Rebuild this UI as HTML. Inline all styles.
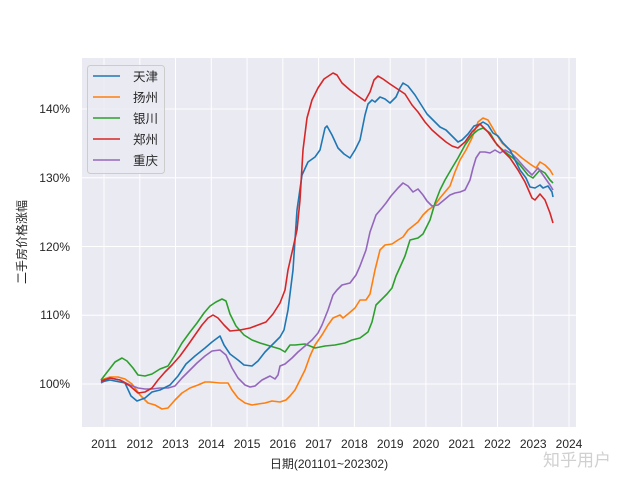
<!DOCTYPE html>
<html><head><meta charset="utf-8"><style>
body{margin:0;background:#fff}
svg text{font-family:"Liberation Sans","Noto Sans CJK SC",sans-serif;fill:#262626}
</style></head><body>
<svg width="640" height="480" xmlns="http://www.w3.org/2000/svg">
<rect x="82" y="58" width="494" height="369" fill="#EAEAF2"/>
<g stroke="#fff" stroke-width="1">
<line x1="104" y1="58" x2="104" y2="427"/><line x1="139.8" y1="58" x2="139.8" y2="427"/><line x1="175.5" y1="58" x2="175.5" y2="427"/><line x1="211.3" y1="58" x2="211.3" y2="427"/><line x1="247.1" y1="58" x2="247.1" y2="427"/><line x1="282.8" y1="58" x2="282.8" y2="427"/><line x1="318.6" y1="58" x2="318.6" y2="427"/><line x1="354.4" y1="58" x2="354.4" y2="427"/><line x1="390.2" y1="58" x2="390.2" y2="427"/><line x1="425.9" y1="58" x2="425.9" y2="427"/><line x1="461.7" y1="58" x2="461.7" y2="427"/><line x1="497.5" y1="58" x2="497.5" y2="427"/><line x1="533.2" y1="58" x2="533.2" y2="427"/><line x1="569" y1="58" x2="569" y2="427"/>
<line x1="82" y1="384" x2="576" y2="384"/><line x1="82" y1="315.3" x2="576" y2="315.3"/><line x1="82" y1="246.5" x2="576" y2="246.5"/><line x1="82" y1="177.8" x2="576" y2="177.8"/><line x1="82" y1="109" x2="576" y2="109"/>
</g>
<g font-size="12" text-anchor="end">
<text x="70" y="388">100%</text><text x="70" y="319">110%</text><text x="70" y="251">120%</text><text x="70" y="182">130%</text><text x="70" y="113">140%</text>
</g>
<g font-size="12" text-anchor="middle">
<text x="104" y="448">2011</text><text x="139.8" y="448">2012</text><text x="175.5" y="448">2013</text><text x="211.3" y="448">2014</text><text x="247.1" y="448">2015</text><text x="282.8" y="448">2016</text><text x="318.6" y="448">2017</text><text x="354.4" y="448">2018</text><text x="390.2" y="448">2019</text><text x="425.9" y="448">2020</text><text x="461.7" y="448">2021</text><text x="497.5" y="448">2022</text><text x="533.2" y="448">2023</text><text x="569" y="448">2024</text>
<text x="329" y="468">日期(201101~202302)</text>
<text transform="translate(26,242) rotate(-90)">二手房价格涨幅</text>
</g>
<g fill="none" stroke-width="1.6" stroke-linejoin="round">
<polyline stroke="#ff7f0e" points="101,380 110,377 118,377 125,379 132,384 140,395 148,403 155,405 162,409 168,408 175,400 182,393 190,388 198,385 205,382 210,382 220,383 228,383 232,390 238,398 245,403 252,405 258,404 265,403 272,401 280,402 286,400 290,396 295,390 300,380 305,370 310,356 315,345 322,335 328,325 333,318 340,315 343,318 348,314 355,308 360,300 366,300 370,294 375,270 380,250 385,245 392,244 398,240 403,237 408,230 413,226 418,222 423,215 428,210 434,206 440,198 445,192 450,186 455,172 460,160 466,150 472,138 478,122 483,118 488,120 495,132 502,143 510,150 515,152 522,158 530,164 536,168 540,162 545,165 550,170 553,175"/>
<polyline stroke="#2ca02c" points="101,380 108,371 115,362 122,358 127,361 133,368 138,375 145,376 152,374 160,369 168,366 175,355 182,343 190,332 197,323 204,313 210,306 216,302 222,299 226,301 230,314 236,326 244,335 252,340 260,343 270,346 280,349 285,352 290,345 295,345 305,344 315,348 325,346 335,345 345,343 352,340 360,338 368,332 372,322 376,305 381,300 387,294 392,288 396,276 401,265 405,256 410,240 418,238 423,234 426,228 430,220 435,203 440,190 445,180 452,168 458,158 465,145 472,135 478,130 483,128 490,133 497,145 505,152 513,158 520,165 528,175 533,178 540,170 545,173 550,180 553,183"/>
<polyline stroke="#9467bd" points="101,383 110,378 120,380 130,385 138,388 145,389 152,389 160,388 168,388 175,386 182,378 190,370 197,363 205,356 212,351 220,350 226,355 232,368 238,378 245,385 250,387 255,386 262,380 270,376 275,379 278,375 280,366 285,364 292,358 298,352 305,346 312,340 318,333 322,325 328,310 333,295 337,290 342,285 350,283 356,275 360,266 366,250 370,232 376,215 382,208 386,203 391,196 398,188 403,183 408,186 413,192 418,189 423,195 427,201 432,206 438,205 444,200 450,195 455,193 460,192 465,190 470,180 473,168 476,158 480,152 485,152 490,153 495,150 500,153 505,150 512,154 518,160 525,168 532,175 538,168 543,175 550,185 553,190"/>
<polyline stroke="#1f77b4" points="101,382 110,380 125,383 131,396 137,401 145,398 152,392 160,390 170,385 178,376 186,364 195,356 205,348 212,342 220,336 224,345 230,354 238,360 244,365 252,366 258,361 265,352 272,345 280,337 284,330 288,310 293,270 297,210 302,175 308,162 315,157 320,150 325,128 327,126 332,135 338,148 344,154 350,158 355,150 360,140 365,115 368,104 372,100 375,102 380,97 385,99 390,103 396,97 400,88 403,83 408,86 415,95 420,103 427,114 433,120 440,127 446,130 452,136 458,142 462,140 468,134 474,126 480,124 483,122 488,125 493,133 498,136 503,143 510,150 515,160 520,170 526,178 530,187 535,188 540,185 543,188 548,186 552,192 553,197"/>
<polyline stroke="#d62728" points="101,381 110,378 120,380 130,386 138,393 145,392 152,388 158,380 165,372 172,365 180,356 188,345 195,335 202,325 208,318 213,315 218,318 224,325 230,331 240,330 250,328 258,325 266,322 273,314 280,303 285,290 288,270 293,248 297,230 300,200 303,150 307,118 312,100 318,88 324,79 330,75 333,73 337,75 342,83 350,90 358,96 365,101 370,92 374,80 378,76 383,79 390,84 396,88 405,94 412,105 418,112 425,122 432,130 440,137 446,142 452,146 458,148 465,142 472,132 480,124 488,132 495,142 502,150 510,158 518,170 525,182 532,198 535,200 540,194 545,200 550,213 553,223"/>
</g>
<rect x="87.5" y="65.5" width="77" height="108" rx="3" fill="#EAEAF2" fill-opacity="0.8" stroke="#ccc"/>
<g stroke-width="1.6">
<line x1="93" y1="76" x2="120" y2="76" stroke="#1f77b4"/>
<line x1="93" y1="97" x2="120" y2="97" stroke="#ff7f0e"/>
<line x1="93" y1="118" x2="120" y2="118" stroke="#2ca02c"/>
<line x1="93" y1="139" x2="120" y2="139" stroke="#d62728"/>
<line x1="93" y1="160" x2="120" y2="160" stroke="#9467bd"/>
</g>
<g font-size="12.5">
<text x="133" y="81">天津</text><text x="133" y="102">扬州</text><text x="133" y="123">银川</text><text x="133" y="144">郑州</text><text x="133" y="165">重庆</text>
</g>
<text x="543" y="466" font-size="17" style="fill:#d0d0d0">知乎用户</text>
</svg>
</body></html>
